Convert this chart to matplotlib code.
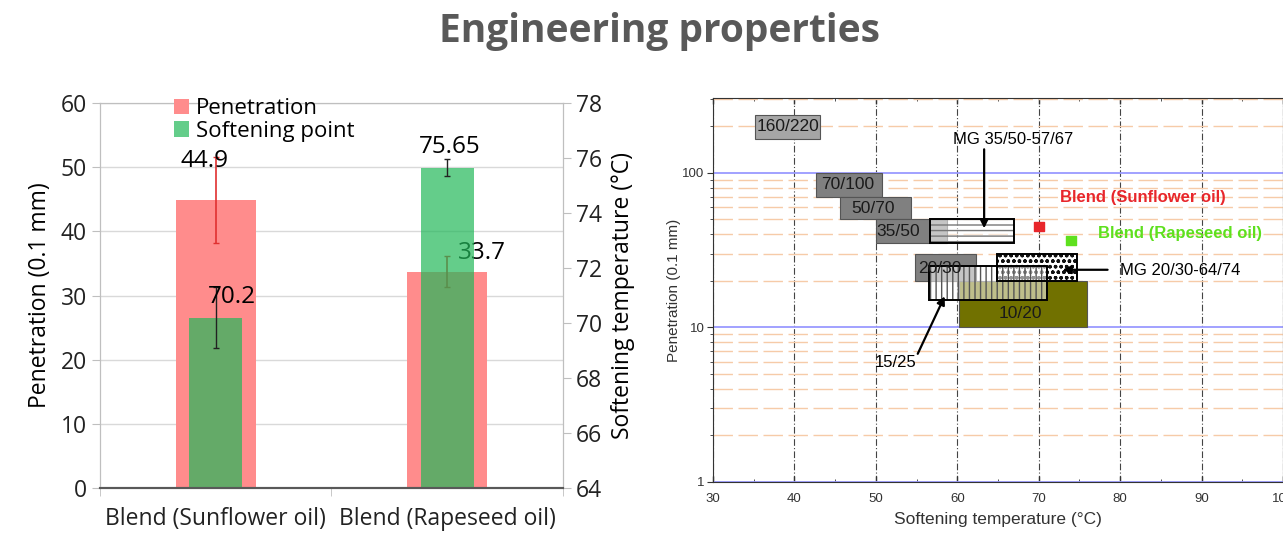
import numpy as np
import matplotlib
matplotlib.use('Agg')
import matplotlib.pyplot as plt
from matplotlib.patches import Rectangle
from matplotlib.ticker import FixedLocator, MultipleLocator, FuncFormatter, LogLocator

# Datos del panel izquierdo
blends = ['Blend (Sunflower oil)', 'Blend (Rapeseed oil)']
penetration = [44.9, 33.7]
penetration_err = [6.7, 2.45]
softening = [70.2, 75.65]
softening_err = [1.1, 0.3]

# Datos del panel derecho: grados (T min, T max, pen min, pen max)
grades = ['160/220', '70/100', '50/70', '35/50', '20/30', '10/20']
grade_t = [(35.2, 43.2), (42.7, 50.7), (45.6, 54.3), (50, 58.7), (54.8, 62.3), (60.2, 75.9)]
grade_pen = [(166, 236), (70, 100), (50, 70), (35, 50), (20, 30), (10, 20)]
grade_color = ['#a6a6a6', '#808080', '#808080', '#808080', '#808080', '#717100']
grade_label_pos = [(39.2, 198), (46.5, 84), (49.6, 59), (52.8, 42), (57.8, 24.2), (67.7, 12.3)]

mg_names = ['MG 35/50-57/67', 'MG 20/30-64/74', '15/25']
mg_t = [(56.6, 67), (64.9, 74.7), (56.5, 71)]
mg_pen = [(35, 50), (20, 30), (15, 25)]
mg_hatch = ['---', 'ooo', '|||']

point_names = ['Blend (Sunflower oil)', 'Blend (Rapeseed oil)']
point_t = [70, 74]
point_pen = [45, 36.5]
point_color = ['#e8262b', '#5ee01e']

fig = plt.figure(figsize=(12.83, 5.39), dpi=100)
fig.text(0.514, 0.942, 'Engineering properties', ha='center', va='center',
         fontsize=28, fontweight='bold', color='#595959', family='Open Sans')

# ---------------- Panel izquierdo ----------------
lf = 'Open Sans'
fs = 16.5
ax1 = fig.add_axes([0.0779, 0.0946, 0.3609, 0.7143])
ax2 = ax1.twinx()
x = np.arange(len(blends))

ax1.bar(x, penetration, width=0.345, color='#ff8c8c', label='Penetration', zorder=2)
ax1.errorbar(x, penetration, yerr=penetration_err, fmt='none', ecolor='#e03030',
             elinewidth=1.2, capsize=2, zorder=3)
ax2.bar(x, softening, width=0.23, color='#22b859', alpha=0.7, label='Softening point', zorder=2)
ax2.errorbar(x, softening, yerr=softening_err, fmt='none', ecolor='#222222',
             elinewidth=1.0, capsize=2, zorder=3)

ax1.set_xlim(-0.5, 1.5)
ax1.set_ylim(0, 60)
ax2.set_ylim(64, 78)
ax1.set_yticks(range(0, 61, 10))
ax2.set_yticks(range(64, 79, 2))
ax1.set_xticks(x)
ax1.set_xticklabels(blends)
ax1.xaxis.set_minor_locator(FixedLocator([-0.5, 0.5, 1.5]))
ax1.tick_params(axis='x', which='major', length=0, pad=14, labelsize=fs)
ax1.tick_params(axis='x', which='minor', length=6, color='#bfbfbf')
ax1.tick_params(axis='y', length=6, color='#bfbfbf', labelsize=fs)
ax2.tick_params(axis='y', length=6, color='#bfbfbf', labelsize=fs)
ax1.yaxis.grid(True, color='#d9d9d9', lw=1.0, zorder=0)
ax1.set_axisbelow(True)
for a in (ax1, ax2):
    for s in a.spines.values():
        s.set_color('#bfbfbf')
    a.spines['bottom'].set_color('#595959')
    a.spines['bottom'].set_linewidth(1.5)
    for lab in a.get_xticklabels() + a.get_yticklabels():
        lab.set_family(lf)
        lab.set_color('#222222')

ax1.set_ylabel('Penetration (0.1 mm)', fontsize=fs, family=lf, labelpad=6)
ax2.set_ylabel('Softening temperature (°C)', fontsize=fs, family=lf, labelpad=6)

bl = 17.5
ax1.text(-0.05, 50.9, '44.9', ha='center', va='center', fontsize=bl, family=lf, zorder=5)
ax1.text(1.15, 36.6, '33.7', ha='center', va='center', fontsize=bl, family=lf, zorder=5)
ax2.text(0.07, 70.95, '70.2', ha='center', va='center', fontsize=bl, family=lf, zorder=5)
ax2.text(1.01, 76.4, '75.65', ha='center', va='center', fontsize=bl, family=lf, zorder=5)

h1, l1 = ax1.get_legend_handles_labels()
h2, l2 = ax2.get_legend_handles_labels()
leg = ax2.legend(h1 + h2, l1 + l2, loc='upper left', bbox_to_anchor=(0.14, 1.035),
                 frameon=False, handlelength=0.7, handleheight=0.7,
                 handletextpad=0.3, labelspacing=0.05, borderaxespad=0,
                 prop={'family': lf, 'size': 16})

# ---------------- Panel derecho ----------------
rf = 'Liberation Sans'
ax = fig.add_axes([0.5557, 0.1058, 0.4443, 0.7124])
ax.set_yscale('log')
ax.set_xlim(30, 100)
ax.set_ylim(1, 305)
ax.xaxis.set_major_locator(MultipleLocator(10))
ax.xaxis.set_minor_locator(MultipleLocator(5))
ax.yaxis.set_major_locator(LogLocator(base=10))
ax.yaxis.set_minor_locator(LogLocator(base=10, subs=np.arange(2, 10)))
ax.yaxis.set_major_formatter(FuncFormatter(lambda v, p: '%g' % v))
ax.yaxis.set_minor_formatter(FuncFormatter(lambda v, p: ''))
ax.tick_params(which='both', direction='in', top=True, right=True, labelsize=9.5,
               colors='#333333')
ax.tick_params(axis='x', which='major', length=4, width=1.0, pad=8)
ax.tick_params(axis='x', which='minor', length=2.5)
ax.tick_params(axis='y', which='major', direction='out', length=4, pad=2)
ax.tick_params(axis='y', which='minor', direction='out', length=2.5)
for lab in ax.get_xticklabels() + ax.get_yticklabels():
    lab.set_family(rf)
for s in ax.spines.values():
    s.set_color('#333333')

ax.xaxis.grid(True, which='major', color='#444444', lw=0.8, linestyle=(0, (6, 2, 1, 2)))
ax.yaxis.grid(True, which='major', color='#9a9aff', lw=1.3)
ax.yaxis.grid(True, which='minor', color='#f6cba8', lw=1.0, linestyle=(0, (14, 4)))
ax.set_axisbelow(True)

ax.set_xlabel('Softening temperature (°C)', fontsize=12.5, family=rf, color='#333333',
              labelpad=5)
ax.set_ylabel('Penetration (0.1 mm)', fontsize=11, family=rf, color='#333333', labelpad=1)

# grado 10/20 al fondo, luego los grises
order = [5, 0, 1, 2, 3, 4]
for i in order:
    t0, t1 = grade_t[i]
    p0, p1 = grade_pen[i]
    ax.add_patch(Rectangle((t0, p0), t1 - t0, p1 - p0, facecolor=grade_color[i],
                           edgecolor='#555555', lw=0.8, zorder=2))

# cajas MG con tramas
for i in range(len(mg_names)):
    t0, t1 = mg_t[i]
    p0, p1 = mg_pen[i]
    fc = (1, 1, 1, 0.55) if i != 1 else (1, 1, 1, 0.9)
    hc = ['#777777', '#111111', '#555555'][i]
    ax.add_patch(Rectangle((t0, p0), t1 - t0, p1 - p0, facecolor=fc,
                           edgecolor=hc, hatch=mg_hatch[i], lw=0, zorder=3))
    ax.add_patch(Rectangle((t0, p0), t1 - t0, p1 - p0, facecolor='none',
                           edgecolor='black', lw=1.4, zorder=4))

for i, (tx, ty) in enumerate(grade_label_pos):
    ax.text(tx, ty, grades[i], ha='center', va='center', fontsize=12.5,
            family=rf, color='#1a1a1a', zorder=6)

ax.scatter(point_t, point_pen, marker='s', s=50, c=point_color, zorder=7)
ax.text(82.8, 69.3, point_names[0], ha='center', va='center', fontsize=12,
        fontweight='bold', color=point_color[0], family=rf, zorder=7)
ax.text(87.4, 40.8, point_names[1], ha='center', va='center', fontsize=12,
        fontweight='bold', color=point_color[1], family=rf, zorder=7)

arrow = dict(arrowstyle='-|>', color='black', lw=1.6, mutation_scale=12)
ax.text(66.8, 165, mg_names[0], ha='center', va='center', fontsize=12, family=rf, zorder=7)
ax.annotate('', xy=(63.3, 42), xytext=(63.3, 148), arrowprops=arrow, zorder=7)
ax.text(80, 23.2, mg_names[1], ha='left', va='center', fontsize=12, family=rf, zorder=7)
ax.annotate('', xy=(72.6, 23.6), xytext=(78.8, 23.6), arrowprops=arrow, zorder=7)
ax.text(52.4, 5.9, mg_names[2], ha='center', va='center', fontsize=12, family=rf, zorder=7)
ax.annotate('', xy=(58.6, 16.5), xytext=(55.0, 6.5), arrowprops=arrow, zorder=7)

plt.savefig('out.png', dpi=100)
